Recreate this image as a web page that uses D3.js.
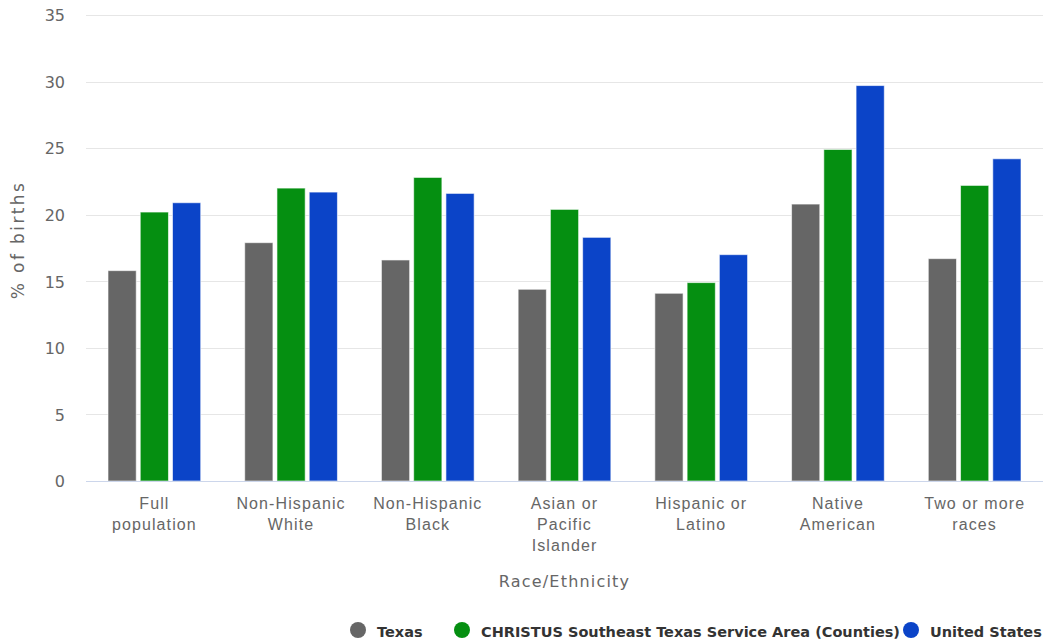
<!DOCTYPE html>
<html>
<head>
<meta charset="utf-8">
<script src="https://cdn.jsdelivr.net/npm/d3@7"></script>
<style>
  html, body { margin: 0; padding: 0; background: #fff; }
  svg { display: block; font-family: "DejaVu Sans", sans-serif; }
</style>
</head>
<body>
<svg id="chart" width="1043" height="643"></svg>
<script>
// Low-risk-birth percentages by race/ethnicity
const categories = [
  ["Full", "population"],
  ["Non-Hispanic", "White"],
  ["Non-Hispanic", "Black"],
  ["Asian or", "Pacific", "Islander"],
  ["Hispanic or", "Latino"],
  ["Native", "American"],
  ["Two or more", "races"]
];
const seriesNames = ["Texas", "CHRISTUS Southeast Texas Service Area (Counties)", "United States"];
const seriesColors = ["#666666", "#058f11", "#0b44c8"];
const texasValues    = [15.8, 17.9, 16.6, 14.4, 14.1, 20.8, 16.7];
const christusValues = [20.2, 22.0, 22.8, 20.4, 14.9, 24.9, 22.2];
const usValues       = [20.9, 21.7, 21.6, 18.3, 17.0, 29.7, 24.2];
const yTicks = [0, 5, 10, 15, 20, 25, 30, 35];

const seriesValues = [texasValues, christusValues, usValues];

const svg = d3.select("#chart");
const margin = { left: 86, right: 0 };
const W = 1043;
const plotRight = W - margin.right;

const x = d3.scaleBand()
  .domain(d3.range(categories.length))
  .range([margin.left, plotRight])
  .padding(0);

const xInner = d3.scaleBand()
  .domain(d3.range(seriesNames.length))
  .range([22, x.bandwidth() - 22])
  .paddingInner(0.125)
  .paddingOuter(0);

const y = d3.scaleLinear()
  .domain([0, 35])
  .range([481, 15]);

// grid lines
svg.append("g")
  .selectAll("line")
  .data(yTicks.filter(d => d > 0))
  .join("line")
  .attr("x1", margin.left)
  .attr("x2", plotRight)
  .attr("y1", d => Math.round(y(d)) + 0.5)
  .attr("y2", d => Math.round(y(d)) + 0.5)
  .attr("stroke", "#e6e6e6")
  .attr("stroke-width", 1);

// y axis tick labels
const yAxis = d3.axisLeft(y).tickValues(yTicks).tickSize(0).tickPadding(0);
const yg = svg.append("g")
  .attr("transform", `translate(65,0)`)
  .call(yAxis);
yg.select(".domain").remove();
yg.selectAll("text")
  .attr("fill", "#666666")
  .attr("font-size", "16px")
  .attr("font-family", "DejaVu Sans, sans-serif")
  .attr("dy", "0.36em");

// y axis title
svg.append("text")
  .attr("transform", `translate(24,${(15 + 481) / 2 - 8}) rotate(-90)`)
  .attr("text-anchor", "middle")
  .attr("fill", "#666666")
  .attr("font-size", "17px")
  .attr("letter-spacing", "2.4px")
  .text("% of births");

// bars
const groups = svg.append("g")
  .selectAll("g")
  .data(categories.map((c, i) => i))
  .join("g")
  .attr("transform", i => `translate(${x(i)},0)`);

groups.selectAll("rect")
  .data(i => seriesValues.map((vals, s) => ({ s, v: vals[i] })))
  .join("rect")
  .attr("x", d => xInner(d.s))
  .attr("width", xInner.bandwidth())
  .attr("y", d => y(d.v))
  .attr("height", d => y(0) - y(d.v))
  .attr("fill", d => seriesColors[d.s])
  .attr("stroke", "#ffffff")
  .attr("stroke-opacity", 0.6)
  .attr("stroke-width", 1);

// x axis line
svg.append("line")
  .attr("x1", margin.left)
  .attr("x2", plotRight)
  .attr("y1", 481.5)
  .attr("y2", 481.5)
  .attr("stroke", "#ccd6eb")
  .attr("stroke-width", 1);

// category labels
const xAxis = d3.axisBottom(x).tickSize(0).tickFormat(() => "");
const xg = svg.append("g").attr("transform", "translate(0,481)").call(xAxis);
xg.select(".domain").remove();
xg.selectAll(".tick").each(function (i) {
  const t = d3.select(this).append("text")
    .attr("text-anchor", "middle")
    .attr("fill", "#666666")
    .attr("font-size", "16px")
    .attr("letter-spacing", "1.1px");
  categories[i].forEach((line, k) => {
    t.append("tspan").attr("x", 0).attr("y", 28 + k * 21).text(line);
  });
});

// x axis title
svg.append("text")
  .attr("x", (margin.left + plotRight) / 2)
  .attr("y", 587)
  .attr("text-anchor", "middle")
  .attr("fill", "#666666")
  .attr("font-size", "16px")
  .attr("letter-spacing", "1.2px")
  .text("Race/Ethnicity");

// legend
const legendX = [358, 462, 911];
const legend = svg.append("g")
  .selectAll("g")
  .data(seriesNames.map((n, i) => i))
  .join("g")
  .attr("transform", i => `translate(${legendX[i]},630)`);
legend.append("circle")
  .attr("r", 8)
  .attr("fill", i => seriesColors[i]);
legend.append("text")
  .attr("x", 19)
  .attr("y", 7)
  .attr("fill", "#333333")
  .attr("font-size", "14.5px")
  .attr("font-weight", "bold")
  .attr("font-family", "DejaVu Sans, sans-serif")
  .text(i => seriesNames[i]);
</script>
</body>
</html>
